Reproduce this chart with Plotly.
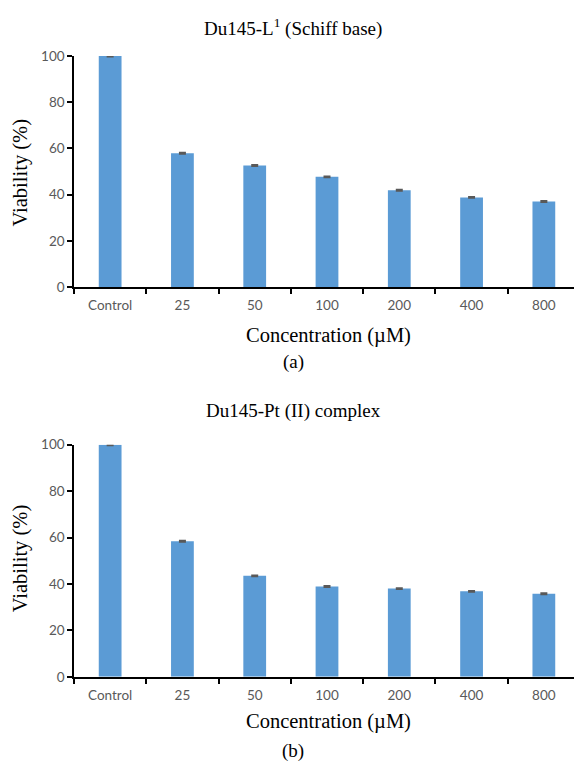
import plotly.graph_objects as go

# Concentration categories shared by both panels
concentrations = ["Control", "25", "50", "100", "200", "400", "800"]

# Cell viability (%) of Du145 cells
viability_schiff = [100, 57.9, 52.6, 47.7, 41.9, 38.8, 37.0]
error_schiff = [0.3, 0.3, 0.3, 0.3, 0.3, 0.3, 0.3]

viability_pt = [100, 58.4, 43.5, 38.9, 38.0, 36.8, 35.8]
error_pt = [0.3, 0.3, 0.3, 0.3, 0.3, 0.3, 0.3]

y_ticks = [0, 20, 40, 60, 80, 100]

W, H = 574, 768
BAR_COLOR = "#5B9BD5"
TICK_FONT = dict(family="Lato, Carlito, Calibri, sans-serif", size=13.5, color="#595959")
SERIF = "Liberation Serif, Times New Roman, serif"


def px_y(p):
    return 1 - p / H


fig = go.Figure()

panels = [
    (viability_schiff, error_schiff, "", (49, 285)),
    (viability_pt, error_pt, "2", (446, 683)),
]

for vals, errs, ax, (top, bottom) in panels:
    fig.add_trace(go.Bar(
        x=concentrations, y=vals,
        marker=dict(color=BAR_COLOR, line=dict(width=0)),
        width=0.315,
        error_y=dict(type="data", array=errs, visible=True,
                     color="#595959", thickness=1.5, width=3.5),
        xaxis="x" + ax, yaxis="y" + ax,
        showlegend=False,
    ))
    fig.layout["xaxis" + ax] = dict(
        domain=[74 / W, 1], anchor="y" + ax,
        type="category", categoryorder="array", categoryarray=concentrations,
        range=[-0.5, 6.417],
        showline=True, linecolor="black", linewidth=1.5,
        ticks="outside", tickson="boundaries", ticklen=5, tickwidth=1.5,
        tickcolor="black", tickfont=TICK_FONT, ticklabelstandoff=5,
        showgrid=False, zeroline=False,
    )
    fig.layout["yaxis" + ax] = dict(
        domain=[px_y(bottom), px_y(top)], anchor="x" + ax,
        range=[0, 100], tickvals=y_ticks,
        showline=True, linecolor="black", linewidth=1.5,
        ticks="outside", ticklen=5, tickwidth=1.5, tickcolor="black",
        tickfont=TICK_FONT, showgrid=False, zeroline=False,
    )

# (text, x px, y px, angle, size)
texts = [
    ("Du145-L<sup>1</sup> (Schiff base)", 293, 20, 0, 19),
    ("Concentration (µM)", 328, 334, 0, 20.5),
    ("(a)", 293, 362, 0, 19),
    ("Viability (%)", 20, 168, -90, 20.5),
    ("Du145-Pt (II) complex", 293, 412, 0, 19),
    ("Concentration (µM)", 328, 729, 0, 20.5),
    ("(b)", 293, 759, 0, 19),
    ("Viability (%)", 20, 562, -90, 20.5),
]
for txt, x, y, ang, size in texts:
    fig.add_annotation(
        text=txt, x=x / W, y=px_y(y), xref="paper", yref="paper",
        xanchor="center", yanchor="middle", showarrow=False, textangle=ang,
        font=dict(family=SERIF, size=size, color="black"),
    )

fig.update_layout(
    width=W, height=H,
    margin=dict(l=0, r=0, t=0, b=0),
    paper_bgcolor="white", plot_bgcolor="white",
    bargap=0.685,
)

fig.write_html("out.html")
